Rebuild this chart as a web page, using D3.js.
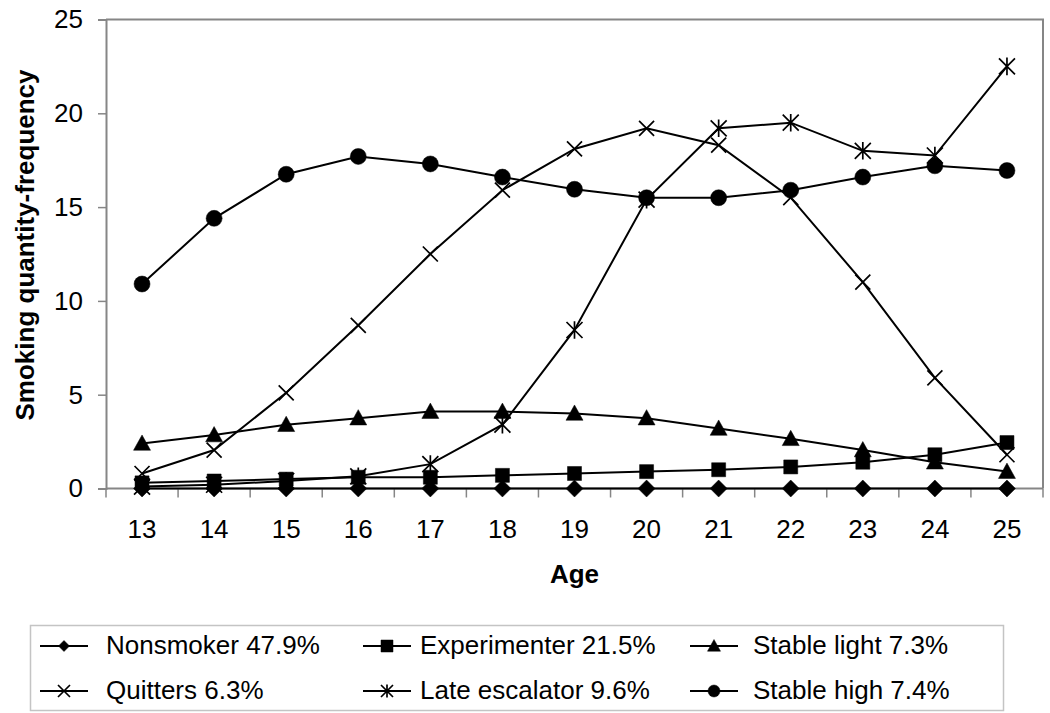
<!DOCTYPE html>
<html>
<head>
<meta charset="utf-8">
<script src="https://cdn.jsdelivr.net/npm/d3@7"></script>
<style>
  body { margin: 0; background: #fff; }
  text { font-family: "Liberation Sans", Arial, sans-serif; fill: #000; }
</style>
</head>
<body>
<div id="chart"></div>
<script>
// data
var ages = [13, 14, 15, 16, 17, 18, 19, 20, 21, 22, 23, 24, 25];
var yTicks = [0, 5, 10, 15, 20, 25];

var nonsmoker     = [0, 0, 0, 0, 0, 0, 0, 0, 0, 0, 0, 0, 0];
var experimenter  = [0.3, 0.4, 0.5, 0.6, 0.6, 0.7, 0.8, 0.9, 1.0, 1.15, 1.4, 1.8, 2.45];
var stableLight   = [2.4, 2.85, 3.4, 3.75, 4.1, 4.1, 4.0, 3.75, 3.2, 2.65, 2.05, 1.4, 0.9];
var quitters      = [0.8, 2.05, 5.1, 8.7, 12.5, 15.9, 18.1, 19.2, 18.3, 15.5, 11.0, 5.9, 1.8];
var lateEscalator = [0.1, 0.2, 0.4, 0.65, 1.3, 3.4, 8.45, 15.4, 19.2, 19.5, 18.0, 17.75, 22.5];
var stableHigh    = [10.9, 14.4, 16.75, 17.7, 17.3, 16.6, 15.95, 15.5, 15.5, 15.9, 16.6, 17.2, 16.95];

var seriesNames = ["Nonsmoker 47.9%", "Experimenter 21.5%", "Stable light 7.3%",
                   "Quitters 6.3%", "Late escalator 9.6%", "Stable high 7.4%"];
var seriesValues = [nonsmoker, experimenter, stableLight, quitters, lateEscalator, stableHigh];
var seriesMarkers = ["diamond", "square", "triangle", "x", "star", "circle"];

var W = 1050, H = 713;
var margin = {top: 19.5, right: 7, bottom: 224.5, left: 106};
var width = W - margin.left - margin.right,
    height = H - margin.top - margin.bottom;

var svg = d3.select("#chart").append("svg")
    .attr("width", W)
    .attr("height", H);

var g = svg.append("g")
    .attr("transform", "translate(" + margin.left + "," + margin.top + ")");

var x = d3.scaleBand().domain(ages).range([0, width]).padding(0);
var y = d3.scaleLinear().domain([0, 25]).range([height, 0]);
var cx = function(a) { return x(a) + x.bandwidth() / 2; };

var grey = "#868686";

// marker sizes in the plot and in the legend
var plotSize = {diamond: 17, square: 14, triangle: 17, x: 15, star: 16, circle: 16};
var legSize = {diamond: 11, square: 12, triangle: 13, x: 12, star: 12, circle: 12};

// marker path, centered on 0,0
function markerPath(type, s) {
  var h = s / 2;
  switch (type) {
    case "diamond": return "M0," + (-h) + "L" + h + ",0L0," + h + "L" + (-h) + ",0Z";
    case "square": return "M" + (-h) + "," + (-h) + "H" + h + "V" + h + "H" + (-h) + "Z";
    case "triangle": return "M0," + (-h) + "L" + h + "," + (h * 0.8) + "L" + (-h) + "," + (h * 0.8) + "Z";
    case "circle": return "M" + h + ",0A" + h + "," + h + " 0 1,1 " + (-h) + ",0A" + h + "," + h + " 0 1,1 " + h + ",0Z";
    case "x": return "M" + (-h) + "," + (-h) + "L" + h + "," + h + "M" + h + "," + (-h) + "L" + (-h) + "," + h;
    case "star": return "M" + (-h) + "," + (-h) + "L" + h + "," + h + "M" + h + "," + (-h) + "L" + (-h) + "," + h +
                        "M0," + (-h * 1.1) + "V" + (h * 1.1);
  }
}
function drawMarker(sel, type, s) {
  var filled = type !== "x" && type !== "star";
  sel.append("path")
    .attr("d", markerPath(type, s))
    .attr("fill", filled ? "#000" : "none")
    .attr("stroke", "#000")
    .attr("stroke-width", filled ? 0.5 : 1.7);
}

// plot frame (top and right)
g.append("path")
  .attr("d", "M0,0H" + width + "V" + height)
  .attr("fill", "none")
  .attr("stroke", grey)
  .attr("stroke-width", 2);

// y axis
var yAxis = g.append("g")
  .call(d3.axisLeft(y).tickValues(yTicks).tickSize(8).tickPadding(15));
yAxis.select(".domain").attr("stroke", grey).attr("stroke-width", 2);
yAxis.selectAll(".tick line").attr("stroke", grey).attr("stroke-width", 1.5);
yAxis.selectAll(".tick text")
  .attr("font-size", "26px")
  .attr("font-family", "Liberation Sans, Arial, sans-serif")
  .attr("fill", "#000");

// x axis: ticks on band boundaries, labels centered
var xAxis = g.append("g").attr("transform", "translate(0," + height + ")");
xAxis.append("line")
  .attr("x1", 0).attr("x2", width)
  .attr("stroke", grey).attr("stroke-width", 2);
var bounds = ages.map(function(a) { return x(a); }).concat([width]);
xAxis.selectAll(".tk").data(bounds).enter().append("line")
  .attr("x1", function(d) { return d; }).attr("x2", function(d) { return d; })
  .attr("y1", 0).attr("y2", 9)
  .attr("stroke", grey).attr("stroke-width", 1.5);
xAxis.selectAll(".lbl").data(ages).enter().append("text")
  .attr("x", function(d) { return cx(d); })
  .attr("y", 49)
  .attr("text-anchor", "middle")
  .attr("font-size", "26px")
  .text(function(d) { return d; });

// axis titles
svg.append("text")
  .attr("transform", "translate(34,245) rotate(-90)")
  .attr("text-anchor", "middle")
  .attr("font-size", "26px")
  .attr("font-weight", "bold")
  .text("Smoking quantity-frequency");

svg.append("text")
  .attr("x", margin.left + width / 2)
  .attr("y", 583)
  .attr("text-anchor", "middle")
  .attr("font-size", "26px")
  .attr("font-weight", "bold")
  .text("Age");

// series
var line = d3.line()
  .x(function(d, i) { return cx(ages[i]); })
  .y(function(d) { return y(d); });

seriesValues.forEach(function(vals, k) {
  var sg = g.append("g");
  sg.append("path")
    .datum(vals)
    .attr("fill", "none")
    .attr("stroke", "#000")
    .attr("stroke-width", 2)
    .attr("d", line);
  vals.forEach(function(v, i) {
    var m = sg.append("g").attr("transform", "translate(" + cx(ages[i]) + "," + y(v) + ")");
    drawMarker(m, seriesMarkers[k], plotSize[seriesMarkers[k]]);
  });
});

// legend
var legend = svg.append("g");
legend.append("rect")
  .attr("x", 30.5).attr("y", 625.5)
  .attr("width", 973).attr("height", 85)
  .attr("fill", "#fff")
  .attr("stroke", "#c4c4c4")
  .attr("stroke-width", 1.5);

var colLine = [40, 363, 690];
var colText = [106, 420, 753];
var rowBase = [654, 699];

seriesNames.forEach(function(name, k) {
  var col = k % 3, row = Math.floor(k / 3);
  var ly = rowBase[row] - 8;
  var item = legend.append("g");
  item.append("line")
    .attr("x1", colLine[col]).attr("x2", colLine[col] + 48)
    .attr("y1", ly).attr("y2", ly)
    .attr("stroke", "#000").attr("stroke-width", 2);
  var m = item.append("g").attr("transform", "translate(" + (colLine[col] + 24) + "," + ly + ")");
  drawMarker(m, seriesMarkers[k], legSize[seriesMarkers[k]]);
  item.append("text")
    .attr("x", colText[col])
    .attr("y", rowBase[row])
    .attr("font-size", "26px")
    .text(name);
});
</script>
</body>
</html>
